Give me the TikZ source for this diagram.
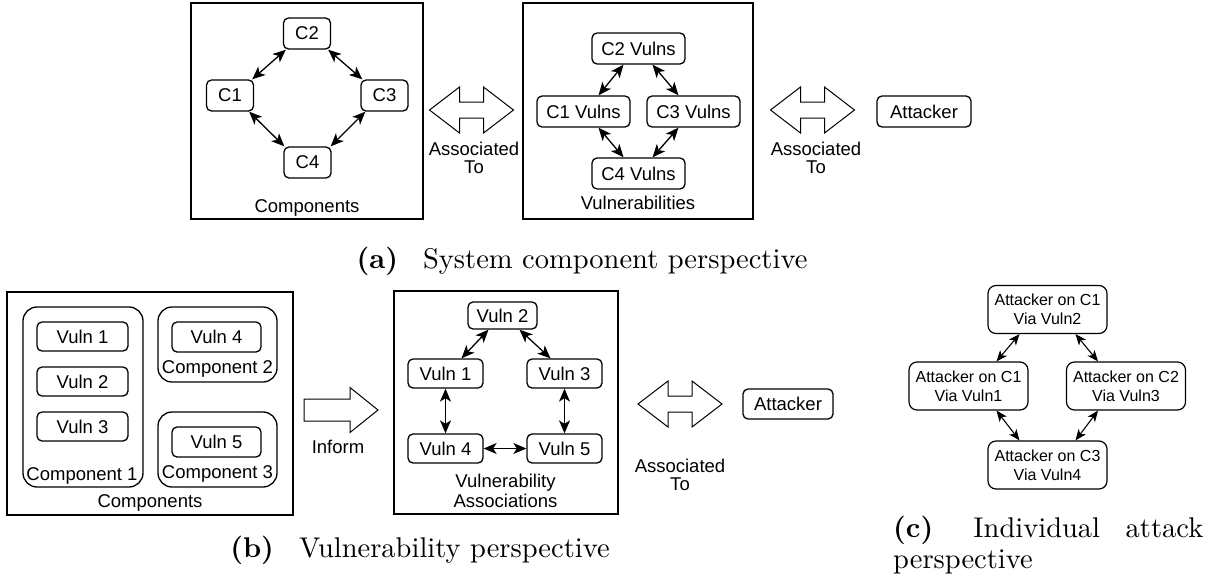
\documentclass[tikz,border=0pt]{standalone}
\usepackage{fontspec}
\usepackage{graphicx}
\usetikzlibrary{arrows.meta}
\newfontfamily\dfont{Liberation Sans}
\begin{document}
\begin{tikzpicture}[x=1pt,y=-1pt,
  txt/.style={inner sep=0pt, font=\dfont\fontsize{18.5}{17.5}\selectfont},
  box/.style={txt, draw, rounded corners=5pt, line width=1.3pt},
  frame/.style={draw, line width=1.5pt, inner sep=0pt},
  cont/.style={draw, rounded corners=14pt, line width=1.3pt, inner sep=0pt},
  atk/.style={draw, rounded corners=8pt, line width=1.2pt, inner sep=0pt, align=center,
     minimum width=119pt, minimum height=48pt, font=\dfont\fontsize{16}{18.7}\selectfont},
  link/.style={{Stealth[length=13pt,width=11pt,inset=3.5pt]}-{Stealth[length=13pt,width=11pt,inset=3.5pt]}, line width=1.3pt},
  slink/.style={{Stealth[length=11pt,width=9pt,inset=3pt]}-{Stealth[length=11pt,width=9pt,inset=3pt]}, line width=1.1pt},
  blockarrow/.style={draw, line width=1pt, line join=miter},
  dblarrow/.pic={\draw[blockarrow] (-42,0) -- (-12,-23) -- (-12,-8) -- (12,-8) -- (12,-23) -- (42,0)
      -- (12,23) -- (12,8) -- (-12,8) -- (-12,23) -- cycle;},
  sglarrow/.pic={\draw[blockarrow] (-37,-11) -- (9,-11) -- (9,-22.5) -- (37,0) -- (9,22.5)
      -- (9,11) -- (-37,11) -- cycle;},
  captext/.style={inner sep=0pt}
]
\useasboundingbox (0,0) rectangle (1217,581);

% ---------------- (a) ----------------
\node[frame, minimum width=232pt, minimum height=216pt] (compA) at (307,111) {};
\node[txt, anchor=base] (compAl) at (307,212) {Components};
\node[box, minimum width=47pt, minimum height=31pt] (c2) at (307,33.5) {C2};
\node[box, minimum width=47pt, minimum height=31pt] (c1) at (230,95.5) {C1};
\node[box, minimum width=47pt, minimum height=31pt] (c3) at (384.5,95.5) {C3};
\node[box, minimum width=47pt, minimum height=31pt] (c4) at (307.5,162.5) {C4};
\draw[link] ([xshift=3pt]c2.south west) -- ([xshift=-2pt]c1.north east);
\draw[link] ([xshift=-3pt]c2.south east) -- ([xshift=2pt]c3.north west);
\draw[link] ([xshift=-5pt]c1.south east) -- ([xshift=1pt]c4.north west);
\draw[link] ([xshift=5pt]c3.south west) -- ([xshift=-1pt]c4.north east);

\pic (da1) at (471.5,110) {dblarrow};
\node[txt, align=center] (da1l) at (474,158) {Associated\\To};

\node[frame, minimum width=230pt, minimum height=216pt] (vulA) at (638,111) {};
\node[txt, anchor=base] (vulAl) at (638,209) {Vulnerabilities};
\node[box, minimum width=93pt, minimum height=31pt] (c2v) at (638.5,48.5) {C2 Vulns};
\node[box, minimum width=93pt, minimum height=31pt] (c1v) at (583.5,111.5) {C1 Vulns};
\node[box, minimum width=93pt, minimum height=31pt] (c3v) at (693.5,111.5) {C3 Vulns};
\node[box, minimum width=93pt, minimum height=31pt] (c4v) at (638.5,173.5) {C4 Vulns};
\draw[link] ([xshift=-15pt]c2v.south) -- ([xshift=15pt]c1v.north);
\draw[link] ([xshift=14pt]c2v.south) -- ([xshift=-15pt]c3v.north);
\draw[link] ([xshift=15pt]c1v.south) -- ([xshift=-15pt]c4v.north);
\draw[link] ([xshift=-15pt]c3v.south) -- ([xshift=14pt]c4v.north);

\pic (da2) at (812.5,110) {dblarrow};
\node[txt, align=center] (da2l) at (816,158) {Associated\\To};
\node[box, minimum width=94pt, minimum height=31pt] (atkA) at (924,111.5) {Attacker};

\node[captext, anchor=base] (capa) at (582,268)
  {\scalebox{2.85}{\fontsize{10}{12}\selectfont\textbf{(a)}\hspace{0.88em}System component perspective}};

% ---------------- (b) ----------------
\node[frame, minimum width=286pt, minimum height=223pt] (compB) at (150,403.5) {};
\node[txt, anchor=base] (compBl) at (150,507) {Components};
\node[cont, minimum width=120pt, minimum height=180pt] (k1) at (83,397) {};
\node[cont, minimum width=119pt, minimum height=75pt] (k2) at (217.5,344.5) {};
\node[cont, minimum width=119pt, minimum height=75pt] (k3) at (217.5,449.5) {};
\node[txt, anchor=base] (k1l) at (82,480) {Component 1};
\node[txt, anchor=base] (k2l) at (217.5,373) {Component 2};
\node[txt, anchor=base] (k3l) at (217.5,478) {Component 3};
\node[box, minimum width=91pt, minimum height=29pt] (v1b) at (82.5,336.5) {Vuln 1};
\node[box, minimum width=91pt, minimum height=29pt] (v2b) at (82.5,381.5) {Vuln 2};
\node[box, minimum width=91pt, minimum height=29pt] (v3b) at (82.5,426.5) {Vuln 3};
\node[box, minimum width=89pt, minimum height=30pt] (v4b) at (216.5,337) {Vuln 4};
\node[box, minimum width=89pt, minimum height=30pt] (v5b) at (216.5,442) {Vuln 5};

\pic (inf) at (341,410) {sglarrow};
\node[txt, anchor=base] (infl) at (338,453) {Inform};

\node[frame, minimum width=224pt, minimum height=223pt] (assoc) at (506,402.5) {};
\node[txt, align=center, font=\dfont\fontsize{18.5}{19.5}\selectfont] (assocl) at (505.5,491) {Vulnerability\\Associations};
\node[box, minimum width=69pt, minimum height=27pt] (va2) at (502.5,315.5) {Vuln 2};
\node[box, minimum width=75pt, minimum height=29pt] (va1) at (445.5,373.5) {Vuln 1};
\node[box, minimum width=75pt, minimum height=29pt] (va3) at (564.5,373.5) {Vuln 3};
\node[box, minimum width=75pt, minimum height=29pt] (va4) at (445.5,448.5) {Vuln 4};
\node[box, minimum width=75pt, minimum height=29pt] (va5) at (564.5,448.5) {Vuln 5};
\draw[link] ([xshift=-14pt]va2.south) -- ([xshift=16pt]va1.north);
\draw[link] ([xshift=17pt]va2.south) -- ([xshift=-14pt]va3.north);
\draw[link] (va1) -- (va4);
\draw[link] (va3) -- (va5);
\draw[link] (va4) -- (va5);

\pic (db) at (680,404) {dblarrow};
\node[txt, align=center] (dbl) at (680,475) {Associated\\To};
\node[box, minimum width=90pt, minimum height=30pt] (atkB) at (788,404) {Attacker};

\node[captext, anchor=base] (capb) at (420,557)
  {\scalebox{2.85}{\fontsize{10}{12}\selectfont\textbf{(b)}\hspace{0.88em}Vulnerability perspective}};

% ---------------- (c) ----------------
\node[atk] (t) at (1047.5,309.5) {Attacker on C1\\Via Vuln2};
\node[atk] (l) at (968.5,386) {Attacker on C1\\Via Vuln1};
\node[atk] (r) at (1126,386) {Attacker on C2\\Via Vuln3};
\node[atk] (b) at (1047.5,465) {Attacker on C3\\Via Vuln4};
\draw[slink] ([xshift=-28pt]t.south) -- ([xshift=28pt]l.north);
\draw[slink] ([xshift=28pt]t.south) -- ([xshift=-28pt]r.north);
\draw[slink] ([xshift=28pt]l.south) -- ([xshift=-28pt]b.north);
\draw[slink] ([xshift=-28pt]r.south) -- ([xshift=28pt]b.north);

\node[captext, anchor=base west] (capc) at (893,537)
  {\scalebox{2.85}{\parbox[t]{108.8pt}{\fontsize{10}{11.2}\selectfont
   \hbox to 108.8pt{\textbf{(c)}\hskip 0pt plus 2.5fil Individual\hskip 3.33pt plus 1fil attack}\hbox{perspective}}}};
\end{tikzpicture}
\end{document}
